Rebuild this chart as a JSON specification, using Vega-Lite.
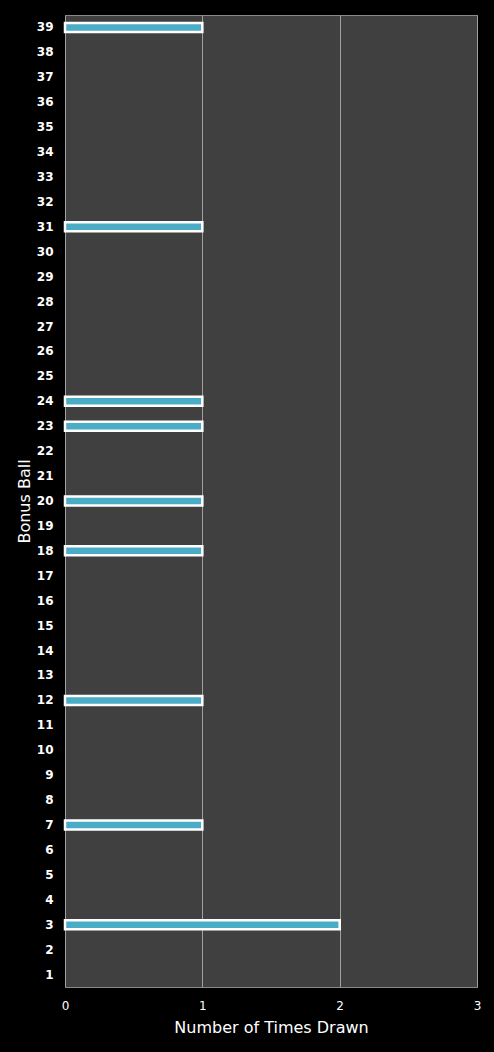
{
  "$schema": "https://vega.github.io/schema/vega-lite/v6.json",
  "width": 412,
  "height": 972,
  "autosize": "none",
  "padding": {"left": 65, "top": 15, "right": 17, "bottom": 65},
  "background": "black",
  "config": {
    "font": "DejaVu Sans",
    "view": {"fill": "#404040", "stroke": "#8a8a8a", "strokeWidth": 1},
    "axis": {"labelColor": "white", "titleColor": "white", "labelFont": "DejaVu Sans", "titleFont": "DejaVu Sans"}
  },
  "data": {
    "values": [
      {"ball": 39, "count": 1},
      {"ball": 31, "count": 1},
      {"ball": 24, "count": 1},
      {"ball": 23, "count": 1},
      {"ball": 20, "count": 1},
      {"ball": 18, "count": 1},
      {"ball": 12, "count": 1},
      {"ball": 7, "count": 1},
      {"ball": 3, "count": 2}
    ]
  },
  "mark": {"type": "bar", "size": 9, "color": "#4bacc6", "stroke": "white", "strokeWidth": 2.5},
  "encoding": {
    "y": {
      "field": "ball",
      "type": "ordinal",
      "title": "Bonus Ball",
      "scale": {"domain": [39,38,37,36,35,34,33,32,31,30,29,28,27,26,25,24,23,22,21,20,19,18,17,16,15,14,13,12,11,10,9,8,7,6,5,4,3,2,1], "paddingInner": 0, "paddingOuter": 0},
      "axis": {"ticks": false, "domain": false, "labelFontSize": 12, "labelFontWeight": "bold", "labelPadding": 12, "titleFontSize": 16, "titleFontWeight": "normal", "titlePadding": 4}
    },
    "x": {
      "field": "count",
      "type": "quantitative",
      "title": "Number of Times Drawn",
      "scale": {"domain": [0, 3]},
      "axis": {"values": [0, 1, 2, 3], "format": "d", "ticks": false, "domain": false, "grid": true, "gridColor": "#a0a0a0", "gridWidth": 1, "labelFlush": false, "labelFontSize": 12, "labelPadding": 13, "titleFontSize": 16, "titleFontWeight": "normal", "titlePadding": 8}
    }
  }
}
